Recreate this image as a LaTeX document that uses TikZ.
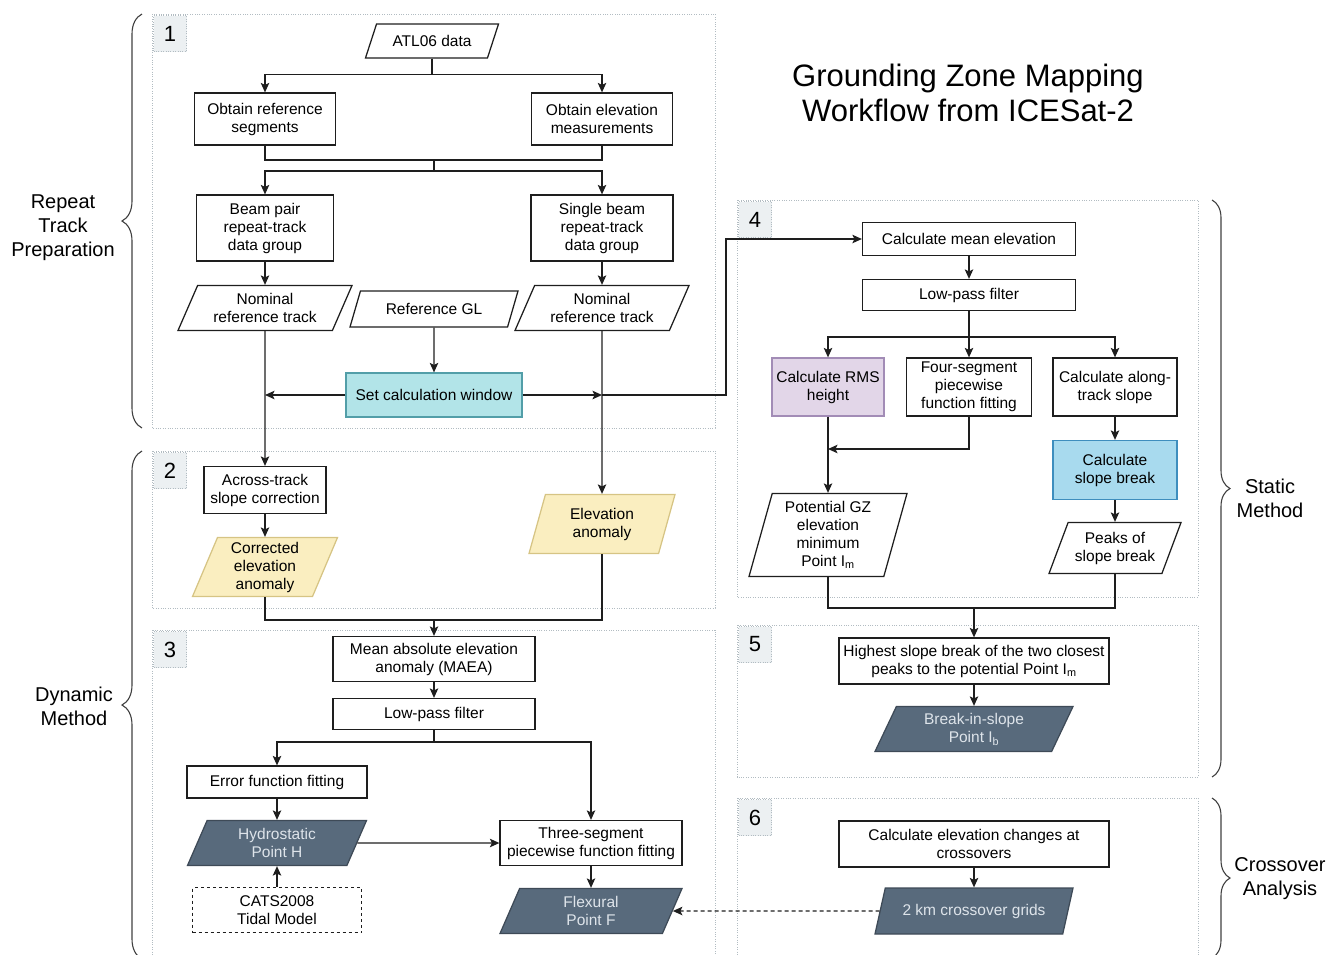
\documentclass[tikz,border=0pt]{standalone}
\usepackage{fontspec}
\setmainfont{Liberation Sans}
\usetikzlibrary{arrows.meta,shapes.geometric,decorations.pathreplacing}

\definecolor{lineC}{RGB}{30,30,30}
\definecolor{sectC}{RGB}{178,188,194}
\definecolor{tagC}{RGB}{236,240,242}
\definecolor{tealF}{RGB}{178,228,232}
\definecolor{tealD}{RGB}{82,158,168}
\definecolor{sandF}{RGB}{250,238,192}
\definecolor{sandD}{RGB}{214,196,132}
\definecolor{lilacF}{RGB}{226,214,232}
\definecolor{lilacD}{RGB}{162,140,182}
\definecolor{skyF}{RGB}{168,218,238}
\definecolor{skyD}{RGB}{62,142,190}
\definecolor{slateF}{RGB}{88,106,124}
\definecolor{slateT}{RGB}{222,228,234}

\newcommand{\bodyfont}{\fontsize{15.5}{18}\selectfont}

\begin{document}
\begin{tikzpicture}[x=1pt, y=-1pt,
    box/.style={draw=lineC, line width=1.25pt, fill=white, align=center, inner sep=1pt, font=\bodyfont},
    para/.style={box, trapezium, trapezium left angle=#1, trapezium right angle={180-#1}, trapezium stretches body},
    para/.default=58,
    dark/.style={fill=slateF, text=slateT, draw=slateF!70!black},
    arr/.style={draw=lineC, line width=1.25pt, -{Stealth[length=9.5pt,width=8.5pt,inset=2pt]}},
    link/.style={draw=lineC, line width=1.25pt},
    sect/.style={draw=sectC, line width=1pt, dash pattern=on 1pt off 1.4pt},
    tag/.style={sect, fill=tagC, minimum width=33, minimum height=36, inner sep=0pt, font=\fontsize{22}{24}\selectfont, anchor=north west},
    side/.style={align=center, font=\fontsize{20}{24}\selectfont},
    curly/.style={draw=black!75, line width=1.1pt, decorate, decoration={brace, amplitude=#1}},
    curly/.default=20]

    \clip (0,0) rectangle (1330,954);

    % Section frames
    \draw[sect] (152,14) rectangle (715,428);
    \draw[sect] (152,451) rectangle (715,608);
    \draw[sect] (152,630) rectangle (715,975);
    \draw[sect] (737,200) rectangle (1198,597);
    \draw[sect] (737,625) rectangle (1198,777);
    \draw[sect] (737,798) rectangle (1198,975);

    \node[tag] (t1) at (153,15) {1};
    \node[tag] (t2) at (153,452) {2};
    \node[tag] (t3) at (153,631) {3};
    \node[tag] (t4) at (738,201) {4};
    \node[tag] (t5) at (738,626) {5};
    \node[tag] (t6) at (738,799) {6};

    % Title
    \node[align=center, font=\fontsize{31}{35}\selectfont] (title) at (968,93) {Grounding Zone Mapping\\Workflow from ICESat-2};

    % Braces and group names
    \draw[curly] (142,428) -- (142,14);
    \draw[curly] (142,959) -- (142,451);
    \draw[curly=18] (1212,200) -- (1212,777);
    \draw[curly=18] (1212,798) -- (1212,958);
    \node[side] (lRep) at (63,228) {Repeat\\Track\\Preparation};
    \node[side] (lDyn) at (74,706) {Dynamic\\Method};
    \node[side] (lSta) at (1270,498) {Static\\Method};
    \node[side] (lCro) at (1280,879) {Crossover\\Analysis};

    % ---- Section 1 ----
    \node[para=50.5, minimum width=133, minimum height=34] (atl) at (432,41) {ATL06 data};
    \node[box, minimum width=141, minimum height=52] (refseg) at (265,119) {Obtain reference\\segments};
    \node[box, minimum width=141, minimum height=52] (elevm) at (602,119) {Obtain elevation\\measurements};
    \node[box, minimum width=137, minimum height=66] (beampair) at (265,228) {Beam pair\\repeat-track\\data group};
    \node[box, minimum width=142, minimum height=66] (single) at (602,228) {Single beam\\repeat-track\\data group};
    \node[para, minimum width=174, minimum height=45] (nomA) at (265,308) {Nominal\\reference track};
    \node[para=52, minimum width=168, minimum height=36] (refgl) at (434,309) {Reference GL};
    \node[para, minimum width=174, minimum height=45] (nomB) at (602,308) {Nominal\\reference track};
    \node[box, fill=tealF, draw=tealD, minimum width=176, minimum height=44] (setwin) at (434,395) {Set calculation window};

    \draw[arr] (atl.south) -- ++(0,16) -| (refseg.north);
    \draw[arr] (atl.south) -- ++(0,16) -| (elevm.north);
    \coordinate (mA) at (434,160);
    \coordinate (sA) at (434,171);
    \draw[link] (refseg.south) |- (mA) -| (elevm.south);
    \draw[link] (mA) -- (sA);
    \draw[arr] (sA) -| (beampair.north);
    \draw[arr] (sA) -| (single.north);
    \draw[arr] (beampair) -- (nomA);
    \draw[arr] (single) -- (nomB);
    \draw[arr] (refgl) -- (setwin);
    \coordinate (jA) at (nomA.south |- setwin.west);
    \coordinate (jB) at (nomB.south |- setwin.east);
    \draw[arr] (setwin) -- (jA);
    \draw[arr] (setwin) -- (jB);

    % ---- Section 2 ----
    \node[box, minimum width=122, minimum height=47] (across) at (265,490) {Across-track\\slope correction};
    \node[para=64.5, fill=sandF, draw=sandD, minimum width=145, minimum height=59] (corr) at (265,567) {Corrected\\elevation\\anomaly};
    \node[para=64.5, fill=sandF, draw=sandD, minimum width=146, minimum height=59] (elanom) at (602,524) {Elevation\\anomaly};

    \draw[arr] (nomA) -- (across);
    \draw[arr] (nomB) -- (elanom);
    \draw[arr] (across) -- (corr);
    \coordinate (mB) at (434,620);
    \draw[link] (corr.south) |- (mB) -| (elanom.south);

    % ---- Section 3 ----
    \node[box, minimum width=202, minimum height=45] (maea) at (434,659) {Mean absolute elevation\\anomaly (MAEA)};
    \node[box, minimum width=202, minimum height=31] (lowA) at (434,714) {Low-pass filter};
    \node[box, minimum width=180, minimum height=32] (errfit) at (277,782) {Error function fitting};
    \node[para, dark, minimum width=179, minimum height=45] (hydro) at (277,843) {Hydrostatic\\Point H};
    \node[box, dashed, minimum width=169, minimum height=45] (cats) at (277,910) {CATS2008\\Tidal Model};
    \node[box, minimum width=182, minimum height=45] (three) at (591,843) {Three-segment\\piecewise function fitting};
    \node[para, dark, minimum width=182, minimum height=45] (flex) at (591,911) {Flexural\\Point F};

    \draw[arr] (mB) -- (maea.north);
    \draw[arr] (maea) -- (lowA);
    \coordinate (sB) at (434,742);
    \draw[link] (lowA.south) -- (sB);
    \draw[arr] (sB) -| (errfit.north);
    \draw[arr] (sB) -| (three.north);
    \draw[arr] (errfit) -- (hydro);
    \draw[arr] (cats) -- (hydro);
    \draw[arr] (hydro.east) -- (three.west);
    \draw[arr] (three) -- (flex);

    % ---- Section 4 ----
    \node[box, minimum width=213, minimum height=33] (calcmean) at (969,239) {Calculate mean elevation};
    \node[box, minimum width=213, minimum height=31] (lowB) at (969,295) {Low-pass filter};
    \node[box, fill=lilacF, draw=lilacD, minimum width=112, minimum height=58] (rms) at (828,387) {Calculate RMS\\height};
    \node[box, minimum width=125, minimum height=58] (four) at (969,387) {Four-segment\\piecewise\\function fitting};
    \node[box, minimum width=124, minimum height=58] (along) at (1115,387) {Calculate along-\\track slope};
    \node[box, fill=skyF, draw=skyD, minimum width=124, minimum height=59] (slopebrk) at (1115,470) {Calculate\\slope break};
    \node[para=71.5, minimum width=158, minimum height=83] (potgz) at (828,535) {Potential GZ\\elevation\\minimum\\Point I\textsubscript{m}};
    \node[para=61, minimum width=132, minimum height=51] (peaks) at (1115,548) {Peaks of\\slope break};

    \draw[arr] (jB) -- ++(124,0) |- (calcmean.west);
    \draw[arr] (calcmean) -- (lowB);
    \coordinate (sC) at (969,337);
    \draw[link] (lowB.south) -- (sC);
    \draw[arr] (sC) -| (rms.north);
    \draw[arr] (sC) -- (four.north);
    \draw[arr] (sC) -| (along.north);
    \coordinate (jC) at (828,449);
    \draw[arr] (four.south) |- (jC);
    \draw[arr] (rms) -- (potgz);
    \draw[arr] (along) -- (slopebrk);
    \draw[arr] (slopebrk) -- (peaks);
    \coordinate (mC) at (974,608);
    \draw[link] (potgz.south) |- (mC) -| (peaks.south);

    % ---- Sections 5 and 6 ----
    \node[box, minimum width=270, minimum height=46] (highest) at (974,661) {Highest slope break of the two closest\\peaks to the potential Point I\textsubscript{m}};
    \node[para, dark, minimum width=198, minimum height=45] (breakin) at (974,729) {Break-in-slope\\Point I\textsubscript{b}};
    \node[box, minimum width=270, minimum height=46] (calcel) at (974,844) {Calculate elevation changes at\\crossovers};
    \node[para, dark, minimum width=198, minimum height=46] (grid) at (974,911) {2 km crossover grids};

    \draw[arr] (mC) -- (highest.north);
    \draw[arr] (highest) -- (breakin);
    \draw[arr] (calcel) -- (grid);
    \draw[arr, dash pattern=on 4pt off 3pt] (grid.west) -- (flex.east);

\end{tikzpicture}
\end{document}
